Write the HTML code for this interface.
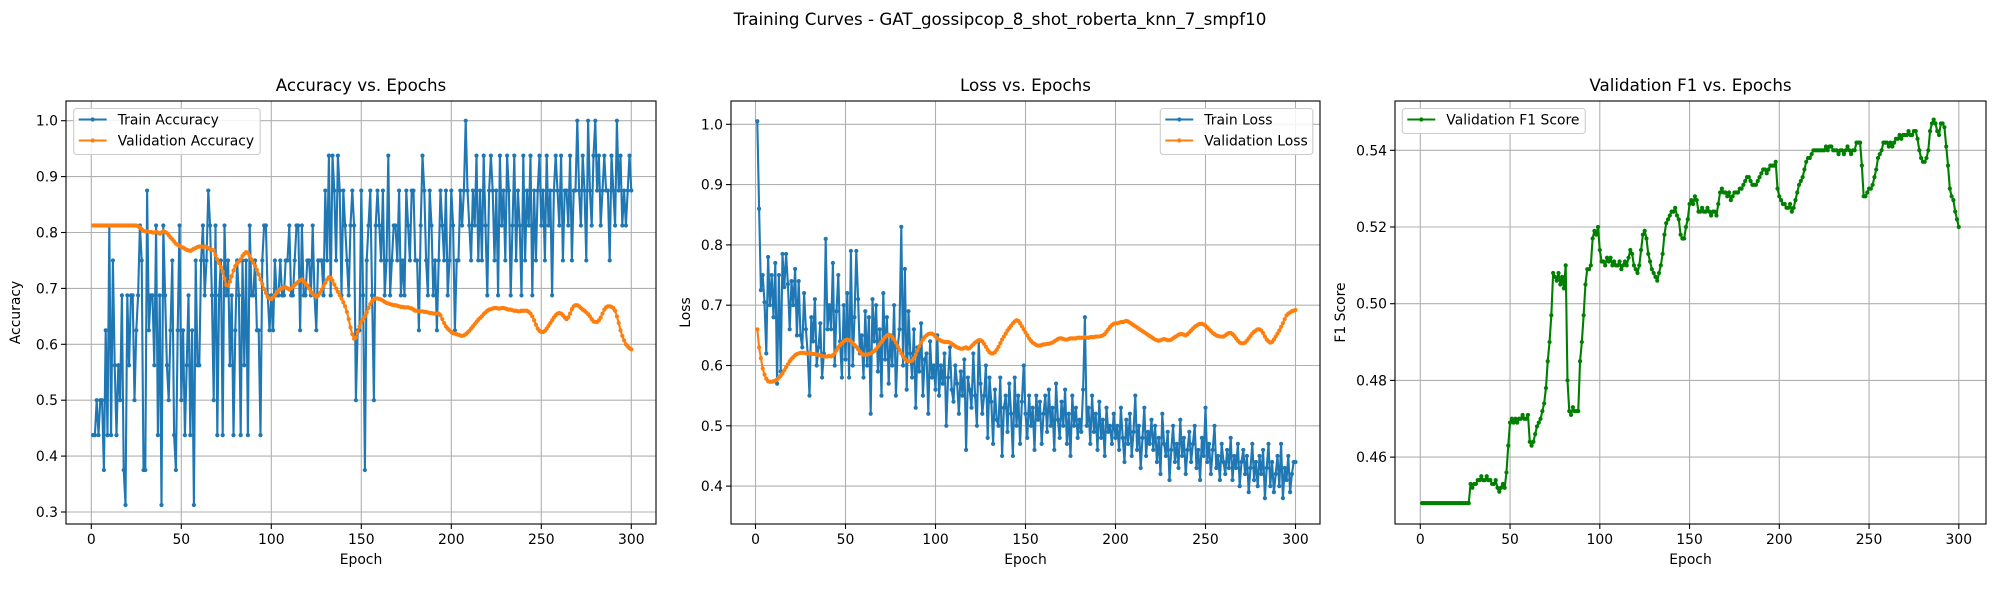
<!DOCTYPE html>
<html><head><meta charset="utf-8"><style>
html,body{margin:0;padding:0;background:#fff;}
svg{display:block;font-family:"DejaVu Sans","Liberation Sans",sans-serif;}
</style></head><body>
<svg id="fig" width="2000" height="600" viewBox="0 0 2000 600">
<text x="1000" y="25" text-anchor="middle" font-size="16.7" fill="#000">Training Curves - GAT_gossipcop_8_shot_roberta_knn_7_smpf10</text>
</svg>
<script>
// ---- data (epochs 1..300) ----
const epochs = Array.from({length:300},(_,i)=>i+1);
const trainAcc16 = [
7,7,8,7,8,8,6,10,7,13,7,12,9,7,9,8,11,6,5,11,
9,11,11,8,10,11,13,12,6,6,14,10,11,11,9,13,7,11,5,13,
11,9,8,10,12,7,6,10,13,8,10,7,9,11,7,10,5,12,9,9,
12,13,11,12,14,13,11,8,13,7,11,12,7,13,11,12,9,11,7,10,
12,11,7,12,9,12,7,13,11,11,12,10,10,7,12,13,13,11,10,11,
10,12,11,11,12,11,11,12,12,13,11,11,12,13,13,10,13,11,11,12,
12,11,13,11,10,12,12,12,11,14,12,15,11,15,14,12,15,14,11,14,
13,12,11,13,14,13,8,10,10,14,11,6,12,13,14,11,8,13,14,13,
12,14,11,12,15,11,12,13,13,12,14,11,12,11,14,13,12,14,14,12,
12,10,13,15,14,12,11,14,13,11,12,10,12,14,13,12,14,11,12,14,
13,10,12,12,14,13,14,16,14,13,12,14,13,15,12,14,12,15,13,11,
14,15,14,12,14,11,15,13,14,12,15,14,11,13,15,12,14,13,11,15,
12,14,13,15,11,14,12,14,15,13,14,12,15,13,14,11,14,15,14,13,
15,12,14,14,13,15,12,14,14,16,14,13,15,14,12,16,14,13,15,16,
14,15,13,14,15,14,14,12,15,14,13,16,14,15,13,14,13,14,15,14];
const trainAcc = trainAcc16.map(v=>v/16);
const valAcc = [
.8125,.8125,.8125,.8125,.8125,.8125,.8125,.8125,.8125,.8125,.8125,.8125,.8125,.8125,.8125,.8125,.8125,.8125,.8125,.8125,
.8125,.8125,.8125,.8125,.8125,.811,.809,.806,.803,.802,.802,.801,.801,.800,.800,.801,.800,.798,.800,.802,
.801,.799,.795,.791,.788,.784,.780,.778,.776,.774,.773,.771,.769,.768,.767,.769,.771,.772,.774,.775,
.775,.774,.775,.774,.772,.770,.769,.768,.760,.752,.745,.738,.730,.718,.706,.705,.712,.722,.732,.740,
.745,.748,.752,.758,.762,.765,.763,.758,.752,.746,.740,.733,.725,.716,.708,.699,.692,.685,.682,.681,
.684,.688,.692,.696,.699,.700,.702,.702,.700,.698,.700,.703,.706,.709,.712,.714,.716,.713,.709,.705,
.700,.694,.690,.687,.685,.687,.692,.698,.704,.710,.716,.720,.719,.714,.707,.700,.694,.688,.682,.675,
.668,.658,.645,.630,.618,.610,.612,.622,.632,.640,.645,.650,.657,.665,.672,.677,.680,.682,.682,.681,
.680,.678,.676,.674,.673,.672,.671,.670,.670,.669,.668,.667,.667,.666,.666,.666,.665,.664,.662,.660,
.660,.659,.659,.659,.658,.658,.657,.656,.656,.655,.655,.655,.655,.652,.645,.638,.632,.628,.625,.622,
.620,.619,.618,.617,.616,.615,.616,.618,.621,.624,.628,.632,.636,.640,.644,.647,.650,.654,.657,.660,
.662,.663,.664,.665,.665,.664,.664,.665,.665,.664,.663,.662,.662,.661,.660,.660,.659,.659,.660,.660,
.660,.660,.658,.655,.650,.643,.635,.628,.624,.622,.622,.624,.628,.633,.638,.643,.648,.652,.655,.656,
.655,.652,.648,.645,.648,.655,.663,.668,.670,.670,.668,.665,.662,.660,.657,.654,.650,.645,.641,.640,
.640,.643,.648,.655,.662,.666,.668,.668,.667,.665,.660,.650,.638,.625,.615,.607,.600,.596,.593,.591];
const trainLoss = [
1.005,.86,.725,.75,.705,.62,.78,.70,.75,.68,.77,.57,.75,.59,.785,.73,.785,.735,.66,.74,
.70,.76,.65,.74,.65,.63,.72,.66,.62,.55,.68,.64,.71,.60,.63,.67,.58,.62,.81,.66,
.70,.66,.77,.60,.69,.75,.64,.58,.70,.61,.72,.58,.79,.60,.68,.79,.71,.62,.65,.58,
.69,.60,.68,.52,.71,.64,.70,.59,.66,.55,.72,.61,.68,.57,.65,.60,.70,.55,.63,.66,
.83,.60,.76,.56,.69,.62,.58,.66,.53,.63,.59,.67,.55,.61,.62,.52,.64,.58,.60,.56,
.65,.55,.60,.57,.62,.50,.58,.63,.56,.54,.60,.57,.52,.59,.55,.61,.46,.58,.56,.53,
.62,.55,.50,.64,.57,.52,.55,.60,.48,.58,.54,.47,.56,.51,.50,.58,.45,.53,.55,.49,
.57,.52,.45,.58,.50,.55,.47,.54,.60,.52,.48,.55,.50,.53,.46,.55,.51,.54,.47,.52,
.55,.49,.56,.50,.53,.46,.57,.51,.48,.54,.50,.56,.47,.52,.45,.55,.50,.53,.48,.51,
.49,.56,.68,.50,.53,.47,.55,.49,.52,.46,.54,.48,.51,.45,.53,.49,.50,.47,.52,.48,
.50,.46,.53,.48,.44,.51,.47,.52,.45,.49,.55,.46,.50,.43,.48,.53,.45,.49,.47,.51,
.46,.50,.44,.48,.42,.52,.47,.45,.49,.41,.46,.50,.44,.47,.43,.51,.45,.48,.42,.46,
.49,.44,.47,.50,.43,.46,.41,.48,.45,.53,.44,.47,.42,.46,.50,.43,.45,.41,.47,.44,
.42,.46,.43,.48,.41,.45,.43,.47,.40,.44,.46,.42,.45,.39,.43,.47,.41,.44,.40,.45,
.42,.46,.38,.43,.47,.40,.44,.39,.42,.45,.40,.47,.38,.43,.41,.45,.39,.42,.44,.44];
const valLoss = [
.660,.630,.612,.595,.585,.578,.574,.573,.573,.574,.575,.577,.580,.583,.587,.592,.597,.602,.607,.611,
.614,.617,.619,.620,.621,.621,.621,.620,.620,.621,.620,.619,.619,.618,.618,.617,.616,.615,.615,.615,
.616,.615,.617,.620,.625,.630,.634,.637,.640,.642,.643,.642,.640,.637,.634,.631,.627,.623,.620,.618,
.618,.618,.619,.620,.622,.624,.627,.631,.635,.639,.643,.647,.650,.651,.650,.647,.643,.638,.632,.626,
.620,.615,.611,.608,.607,.607,.608,.612,.618,.625,.632,.638,.643,.647,.650,.652,.653,.653,.651,.648,
.645,.643,.641,.640,.639,.639,.639,.638,.636,.634,.632,.630,.629,.628,.628,.629,.630,.628,.629,.632,
.635,.638,.640,.642,.642,.640,.636,.631,.626,.622,.620,.620,.622,.626,.631,.637,.643,.648,.653,.658,
.662,.666,.670,.673,.675,.674,.670,.665,.660,.655,.650,.645,.641,.638,.636,.634,.633,.633,.634,.635,
.635,.636,.636,.637,.638,.640,.642,.644,.645,.645,.644,.643,.643,.644,.645,.645,.645,.645,.646,.646,
.646,.646,.647,.646,.646,.647,.647,.647,.648,.648,.648,.649,.650,.652,.656,.660,.664,.667,.669,.670,
.670,.671,.672,.672,.673,.674,.673,.671,.669,.667,.665,.663,.661,.659,.657,.655,.653,.651,.649,.647,
.645,.643,.642,.641,.642,.643,.644,.643,.642,.642,.643,.645,.647,.649,.651,.652,.652,.651,.650,.652,
.655,.658,.661,.664,.666,.668,.669,.669,.668,.666,.663,.660,.657,.654,.652,.650,.649,.648,.648,.648,
.650,.652,.654,.654,.652,.649,.645,.641,.638,.637,.637,.638,.641,.645,.649,.653,.656,.658,.660,.660,
.658,.654,.648,.643,.640,.638,.639,.643,.648,.653,.658,.664,.670,.677,.683,.686,.688,.690,.691,.692];
const valF1 = [
.448,.448,.448,.448,.448,.448,.448,.448,.448,.448,.448,.448,.448,.448,.448,.448,.448,.448,.448,.448,.448,.448,.448,.448,.448,.448,.448,
.453,.452,.453,.453,.454,.454,.455,.454,.454,.455,.454,.454,.453,.453,.454,.452,.451,.452,.453,.452,.456,
.463,.469,.470,.469,.470,.469,.470,.470,.471,.470,.470,.471,
.464,.463,.464,.466,.468,.469,.470,.472,.474,.478,.485,.490,.497,.508,.507,
.506,.508,.505,.507,.504,.510,.480,.472,.471,.473,.472,.472,.472,.485,.490,
.497,.505,.509,.509,.510,.517,.519,.518,.520,.514,.511,.511,.510,.512,.511,
.512,.510,.511,.510,.510,.511,.509,.510,.511,.510,.512,.514,.513,.510,.509,
.508,.510,.514,.518,.519,.517,.513,.511,.509,.508,.507,.506,.508,.510,.513,
.518,.521,.522,.523,.524,.524,.525,.523,.522,.518,.517,.517,.520,.522,.526,
.527,.526,.528,.527,.524,.524,.525,.524,.524,.525,.524,.523,.524,.524,.523,
.526,.529,.530,.529,.529,.528,.529,.527,.528,.529,.529,.529,.530,.530,.531,
.532,.533,.533,.532,.531,.531,.531,.532,.533,.534,.535,.535,.534,.535,.536,
.536,.536,.537,.530,.528,.527,.526,.526,.525,.525,.526,.524,.525,.527,.529,
.531,.532,.533,.535,.537,.538,.538,.539,.540,.540,.540,.540,.540,.540,.540,
.541,.540,.541,.541,.540,.540,.540,.539,.540,.540,.539,.540,.541,.540,.539,
.540,.540,.542,.542,.542,.536,.528,.528,.529,.530,.530,.531,.533,.535,.538,
.539,.540,.542,.542,.542,.541,.542,.541,.542,.543,.543,.544,.543,.544,.544,
.544,.545,.544,.544,.545,.545,.543,.540,.538,.537,.537,.538,.540,.545,.547,
.548,.547,.545,.544,.547,.547,.546,.541,.536,.530,.528,.527,.524,.522,.520];
const xTicks = [0,50,100,150,200,250,300];
const accTicks = [0.3,0.4,0.5,0.6,0.7,0.8,0.9,1.0];
const lossTicks = [0.4,0.5,0.6,0.7,0.8,0.9,1.0];
const f1Ticks = [0.46,0.48,0.50,0.52,0.54];

const NS="http://www.w3.org/2000/svg";
const svg=document.getElementById('fig');
function mk(tag,attrs,parent){const e=document.createElementNS(NS,tag);for(const k in attrs)e.setAttribute(k,attrs[k]);(parent||svg).appendChild(e);return e;}

function panel(cfg){
  const g=mk('g',{});
  
  
  const X=e=>cfg.x0+(e-0)*cfg.xs;
  const Y=v=>cfg.yTop+(cfg.vTop-v)*cfg.ys;
  const L=cfg.left,R=cfg.right,T=101,B=524;
  // grid
  xTicks.forEach(t=>{const l=mk('line',{x1:X(t),x2:X(t),y1:T,y2:B,stroke:'#b0b0b0','stroke-width':1.1},g);
    });
  cfg.yt.forEach(t=>{const l=mk('line',{x1:L,x2:R,y1:Y(t),y2:Y(t),stroke:'#b0b0b0','stroke-width':1.1},g);
    });
  const cid='clip'+cfg.name;
  const cp=mk('clipPath',{id:cid},g);mk('rect',{x:L,y:T,width:R-L,height:B-T},cp);
  const sg=mk('g',{'clip-path':'url(#'+cid+')'},g);
  cfg.series.forEach(s=>{
    const sgg=mk('g',{},sg);
    
    
    const pts=s.data.map((v,i)=>X(epochs[i]).toFixed(2)+','+Y(v).toFixed(2)).join(' ');
    mk('polyline',{points:pts,fill:'none',stroke:s.color,'stroke-width':2.1,'stroke-linejoin':'round'},sgg);
    s.data.forEach((v,i)=>{const c=mk('circle',{cx:X(epochs[i]),cy:Y(v),r:2.1,fill:s.color},sgg);});
  });
  // frame
  const fr=mk('rect',{x:L,y:T,width:R-L,height:B-T,fill:'none',stroke:'#000','stroke-width':1.1},g);
  
  xTicks.forEach(t=>{mk('line',{x1:X(t),x2:X(t),y1:B,y2:B+5,stroke:'#000','stroke-width':1.1},g);
    const tx=mk('text',{x:X(t),y:544,'text-anchor':'middle','font-size':13.9,fill:'#000'},g);tx.textContent=t;
    });
  cfg.yt.forEach(t=>{mk('line',{x1:L-5,x2:L,y1:Y(t),y2:Y(t),stroke:'#000','stroke-width':1.1},g);
    const tx=mk('text',{x:L-8,y:Y(t)+5,'text-anchor':'end','font-size':13.9,fill:'#000'},g);tx.textContent=t.toFixed(cfg.dec);
    });
  const xl=mk('text',{x:(L+R)/2,y:564,'text-anchor':'middle','font-size':13.9,fill:'#000'},g);xl.textContent='Epoch';
  
  const yl=mk('text',{x:cfg.ylx,y:(T+B)/2,'text-anchor':'middle','font-size':13.9,fill:'#000',transform:'rotate(-90 '+cfg.ylx+' '+((T+B)/2)+')'},g);yl.textContent=cfg.ylabel;
  
  const ti=mk('text',{x:(L+R)/2,y:91,'text-anchor':'middle','font-size':16.7,fill:'#000'},g);ti.textContent=cfg.title;
  
  // legend
  const lg=mk('g',{},g);
  
  
  mk('rect',{x:cfg.lg.x,y:108.5,width:cfg.lg.w,height:cfg.series.length*21+4,rx:3,fill:'#fff','fill-opacity':0.85,stroke:'#cccccc','stroke-width':1.1},lg);
  cfg.series.forEach((s,i)=>{
    const yy=119.5+i*21;
    const en=mk('g',{},lg);
    
    
    mk('line',{x1:cfg.lg.x+5,x2:cfg.lg.x+33,y1:yy,y2:yy,stroke:s.color,'stroke-width':2.1},en);
    mk('circle',{cx:cfg.lg.x+19,cy:yy,r:2.1,fill:s.color},en);
    const t=mk('text',{x:cfg.lg.x+44,y:yy+5,'font-size':13.9,fill:'#000'},en);t.textContent=s.label;
  });
}
panel({name:'accuracy-panel',left:66,right:656,x0:91.3,xs:1.8,yTop:120.7,vTop:1.0,ys:559,yt:accTicks,dec:1,
  ylabel:'Accuracy',ylx:20,title:'Accuracy vs. Epochs',lg:{x:73.7,w:186.5},
  series:[{name:'train-accuracy-series',label:'Train Accuracy',color:'#1f77b4',data:trainAcc},
          {name:'validation-accuracy-series',label:'Validation Accuracy',color:'#ff7f0e',data:valAcc}]});
panel({name:'loss-panel',left:731,right:1320,x0:755.5,xs:1.8,yTop:124.3,vTop:1.0,ys:603,yt:lossTicks,dec:1,
  ylabel:'Loss',ylx:690,title:'Loss vs. Epochs',lg:{x:1160.3,w:152.5},
  series:[{name:'train-loss-series',label:'Train Loss',color:'#1f77b4',data:trainLoss},
          {name:'validation-loss-series',label:'Validation Loss',color:'#ff7f0e',data:valLoss}]});
panel({name:'f1-panel',left:1395,right:1986,x0:1420.3,xs:1.795,yTop:150.3,vTop:0.54,ys:3835,yt:f1Ticks,dec:2,
  ylabel:'F1 Score',ylx:1345,title:'Validation F1 vs. Epochs',lg:{x:1402.3,w:183},
  series:[{name:'validation-f1-series',label:'Validation F1 Score',color:'#008000',data:valF1}]});
</script>
</body></html>
